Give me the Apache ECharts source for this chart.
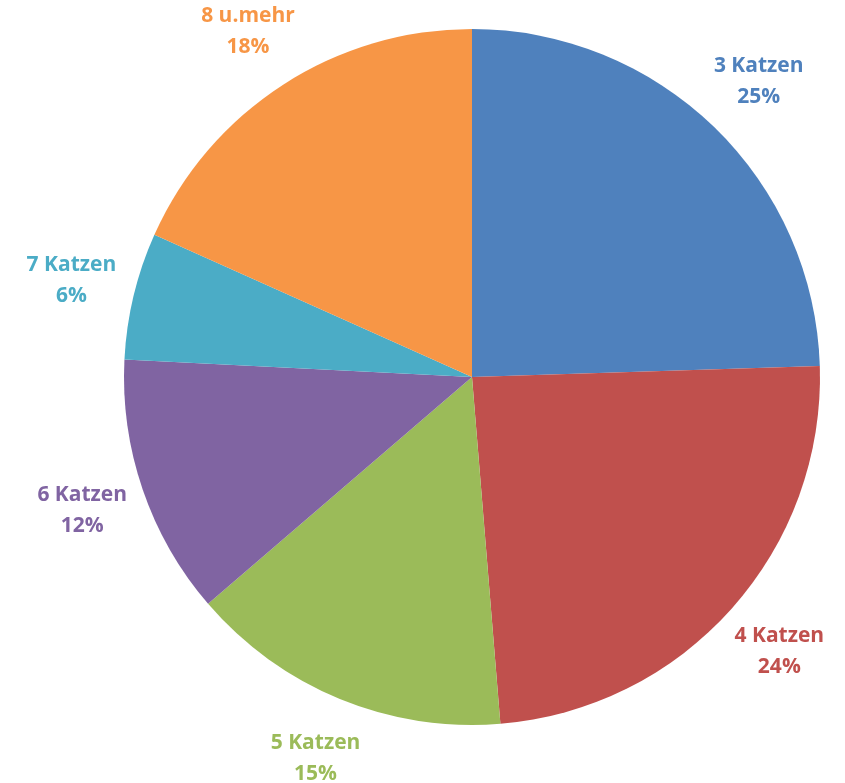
<!DOCTYPE html>
<html>
<head>
<meta charset="utf-8">
<script src="https://cdn.jsdelivr.net/npm/echarts@6/dist/echarts.min.js"></script>
<style>
html,body{margin:0;padding:0;background:#fff;}
#chart{width:845px;height:783px;}
</style>
</head>
<body>
<div id="chart"></div>
<script>
const categories = ['3 Katzen', '4 Katzen', '5 Katzen', '6 Katzen', '7 Katzen', '8 u.mehr'];
const values = [24.5, 24.2, 15.0, 12.1, 5.9, 18.3];
const colors = ['#4F81BD', '#C0504D', '#9BBB59', '#8064A2', '#4BACC6', '#F79646'];

const data = categories.map((c, i) => ({ name: c, value: values[i], itemStyle: { color: colors[i] } }));
const labelData = categories.map((c, i) => ({
  name: c, value: values[i],
  label: { color: colors[i] }
}));

const chart = echarts.init(document.getElementById('chart'), null, { renderer: 'canvas' });
chart.setOption({
  animation: false,
  backgroundColor: '#ffffff',
  series: [
    {
      type: 'pie',
      center: [472, 377],
      radius: [0, 348],
      startAngle: 90,
      clockwise: true,
      silent: true,
      label: { show: false },
      labelLine: { show: false },
      data: data
    },
    {
      type: 'pie',
      center: [472, 377],
      radius: [348, 470],
      startAngle: 90,
      clockwise: true,
      silent: true,
      itemStyle: { color: 'rgba(0,0,0,0)', borderWidth: 0 },
      label: {
        show: true,
        position: 'inside',
        fontFamily: 'Open Sans',
        fontWeight: 'bold',
        fontSize: 21,
        lineHeight: 31,
        align: 'center',
        formatter: p => p.name + '\n' + Math.round(p.percent) + '%'
      },
      labelLine: { show: false },
      data: labelData
    }
  ]
});
</script>
</body>
</html>
